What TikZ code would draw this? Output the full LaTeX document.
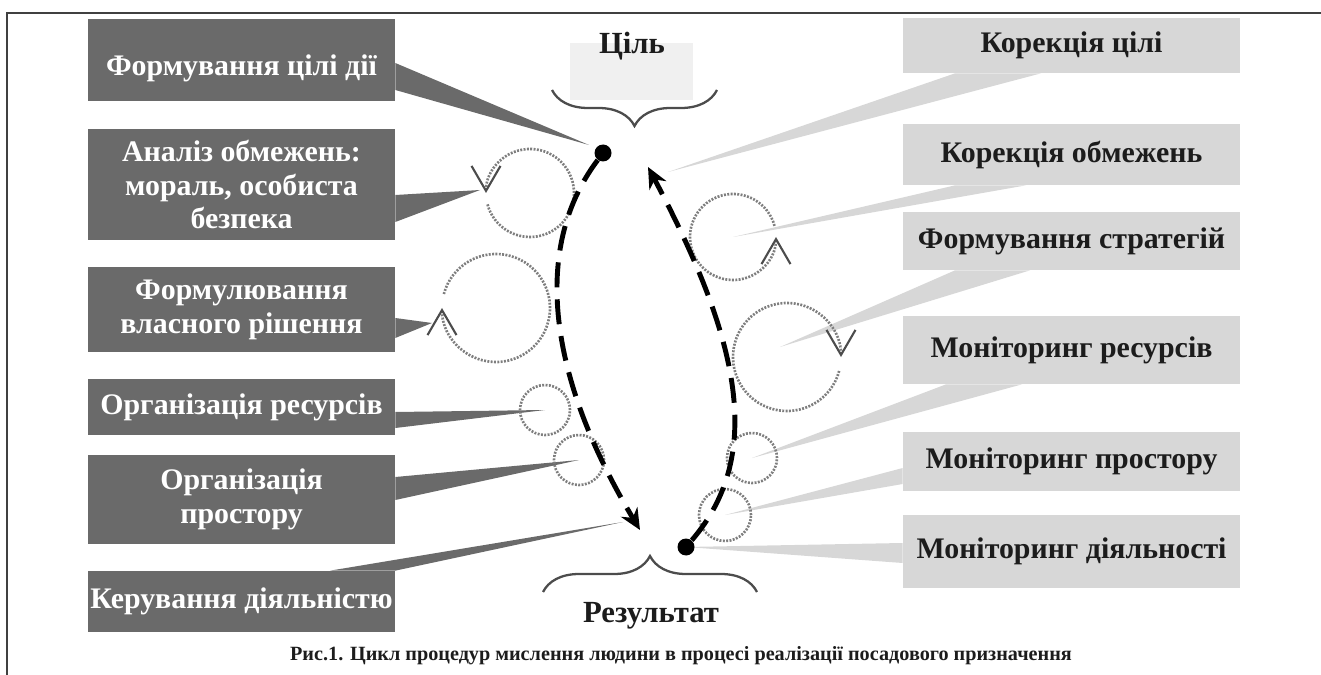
\documentclass[tikz,border=0pt]{standalone}
\usepackage{fontspec}
\setmainfont{Liberation Serif}
\usetikzlibrary{arrows.meta,decorations.pathreplacing,backgrounds}

\definecolor{grisoscuro}{HTML}{6A6A6A}
\definecolor{grisclaro}{HTML}{D7D7D7}
\definecolor{grispunto}{HTML}{7E7E7E}
\definecolor{tinta}{HTML}{1C1C1C}

\newcommand{\letra}{\fontsize{17}{19.3}\selectfont\bfseries}

\begin{document}
\begin{tikzpicture}[x=0.02cm, y=-0.02cm,
        oscura/.style={fill=grisoscuro, text=white, font=\letra, align=center, inner sep=0pt, minimum width=6.14cm},
        clara/.style={fill=grisclaro, text=tinta, font=\letra, align=center, inner sep=0pt, minimum width=6.74cm},
        ciclo/.style={draw=grispunto, line width=1.5pt, dash pattern=on 1.1pt off 0.8pt},
        giro/.style={ciclo, -{Straight Barb[length=0.5cm, width=0.58cm, line width=1.2pt, color=black!70]}},
        anillo/.style={ciclo, circle, inner sep=0pt},
        alfiler/.style={circle, fill=black, inner sep=0pt, minimum size=0.34cm},
        recorrido/.style={line width=2.8pt, dash pattern=on 0.5cm off 0.24cm, -{Stealth[length=0.42cm, width=0.38cm]}},
        llave/.style={decorate, decoration={brace, amplitude=0.72cm}, line width=1.3pt, draw=black!70},
        titulo/.style={font=\fontsize{17.5}{20}\selectfont\bfseries, text=tinta, anchor=base}]
    \useasboundingbox (0,0) rectangle (1321,675);

    % Marco
    \draw[line width=1.1pt, black!75] (7,675) -- (7,13) -- (1321,13);

    % Cajas izquierdas
    \node[oscura, minimum height=1.64cm, text height=0.72cm, text depth=0.1cm] (formacion) at (241.5,60) {Формування цілі дії};
    \node[oscura, minimum height=2.22cm] (analisis) at (241.5,184.5) {Аналіз обмежень:\\ мораль, особиста\\ безпека};
    \node[oscura, minimum height=1.70cm] (decision) at (241.5,309.5) {Формулювання\\ власного рішення};
    \node[oscura, minimum height=1.12cm] (recursos) at (241.5,407) {Організація ресурсів};
    \node[oscura, minimum height=1.78cm] (espacio) at (241.5,499.5) {Організація\\ простору};
    \node[oscura, minimum height=1.22cm] (gestion) at (241.5,601.5) {Керування діяльністю};

    % Cajas derechas
    \node[clara, minimum height=1.10cm] (corrmeta) at (1071.5,45.5) {Корекція цілі};
    \node[clara, minimum height=1.22cm] (corrlim) at (1071.5,154.5) {Корекція обмежень};
    \node[clara, minimum height=1.16cm] (estrategia) at (1071.5,241) {Формування стратегій};
    \node[clara, minimum height=1.36cm] (monrec) at (1071.5,350) {Моніторинг ресурсів};
    \node[clara, minimum height=1.18cm] (monesp) at (1071.5,461.5) {Моніторинг простору};
    \node[clara, minimum height=1.46cm] (monact) at (1071.5,551.5) {Моніторинг діяльності};

    % Ciclos
    \coordinate (crestr) at (530,193);
    \draw[giro] (crestr) ++(165:44) arc[start angle=165, end angle=-180, radius=44];
    \coordinate (cdecis) at (496,308);
    \draw[giro] (cdecis) ++(-165:54) arc[start angle=-165, end angle=180, radius=54];
    \node[anillo, minimum size=1cm] (crecur) at (545,410) {};
    \node[anillo, minimum size=1cm] (cespac) at (579,460) {};
    \coordinate (ccorr) at (733,237);
    \draw[giro] (ccorr) ++(-15:43) arc[start angle=-15, end angle=-360, radius=43];
    \coordinate (cestr) at (787,357);
    \draw[giro] (cestr) ++(15:54) arc[start angle=15, end angle=360, radius=54];
    \node[anillo, minimum size=1cm] (cmonrec) at (752,458) {};
    \node[anillo, minimum size=1.04cm] (cmonesp) at (725,515) {};

    % Recorridos
    \node[alfiler] (inicio) at (603,153) {};
    \node[alfiler] (fin) at (686,547) {};
    \coordinate (llegada) at (640,530);
    \coordinate (retorno) at (648,167);
    \draw[recorrido] (inicio) .. controls (530,250) and (550,380) .. (llegada);
    \draw[recorrido] (fin) .. controls (765,455) and (740,340) .. (retorno);

    % Puntas de las llamadas
    \coordinate (pmeta) at (589,145);
    \coordinate (prestr) at (480,190);
    \coordinate (pdecis) at (432,323);
    \coordinate (pgestion) at (623,522);
    \coordinate (pcorr) at (668,172);
    \coordinate (pestr) at (780,347);

    \begin{scope}[on background layer]
        \fill[grisoscuro] (formacion.east |- 0,63) -- (formacion.east |- 0,90) -- (pmeta) -- cycle;
        \fill[grisoscuro] (analisis.east |- 0,195) -- (analisis.east |- 0,222) -- (prestr) -- cycle;
        \fill[grisoscuro] (decision.east |- 0,318) -- (decision.east |- 0,338) -- (pdecis) -- cycle;
        \fill[grisoscuro] (recursos.east |- 0,412) -- (recursos.east |- 0,428) -- (crecur.center) -- cycle;
        \fill[grisoscuro] (espacio.east |- 0,477) -- (espacio.east |- 0,500) -- (cespac.center) -- cycle;
        \fill[grisoscuro] (gestion.north -| 330,0) -- (gestion.north east) -- (pgestion) -- cycle;

        \fill[grisclaro] (corrmeta.south -| 955,0) -- (corrmeta.south -| 1041,0) -- (pcorr) -- cycle;
        \fill[grisclaro] (corrlim.south -| 955,0) -- (corrlim.south -| 1026,0) -- (ccorr) -- cycle;
        \fill[grisclaro] (estrategia.south -| 955,0) -- (estrategia.south -| 1030,0) -- (pestr) -- cycle;
        \fill[grisclaro] (monrec.south -| 946,0) -- (monrec.south -| 1022,0) -- (cmonrec.center) -- cycle;
        \fill[grisclaro] (monesp.west |- 0,468) -- (monesp.west |- 0,484) -- (cmonesp.center) -- cycle;
        \fill[grisclaro] (monact.west |- 0,543) -- (monact.west |- 0,563) -- (fin.center) -- cycle;

        % Fondo de la meta
        \fill[black!6] (570,43) rectangle (693,100);
    \end{scope}

    % Llaves y rotulos
    \draw[llave] (717,90) -- (552,90);
    \draw[llave] (543,592) -- (757,592);
    \node[titulo] (meta) at (632,54) {Ціль};
    \node[titulo] (resultado) at (651,622) {Результат};

    % Pie
    \node[font=\fontsize{11.5}{13}\selectfont\bfseries, text=tinta, anchor=base] (pie) at (681,660)
        {Рис.1. Цикл процедур мислення людини в процесі реалізації посадового призначення};
\end{tikzpicture}
\end{document}
